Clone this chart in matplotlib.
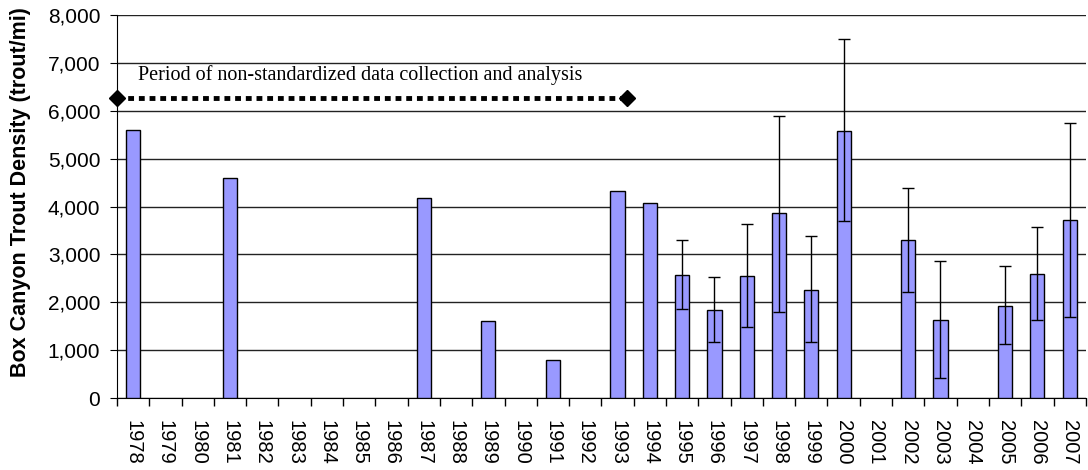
import matplotlib.pyplot as plt
from matplotlib.ticker import FuncFormatter, MultipleLocator
import numpy as np

# Years and mean density (trout/mi); 0 = no survey
years = list(range(1978, 2008))
density = [5600, 0, 0, 4600, 0, 0, 0, 0, 0, 4170, 0, 1600, 0, 800, 0, 4330,
           4070, 2570, 1840, 2550, 3860, 2260, 5570, 0, 3300, 1630, 0, 1920, 2600, 3720]

# Confidence limits, only for years that have them (None = no bar)
lower = [None] * 17 + [1860, 1180, 1490, 1800, 1180, 3700, None, 2210, 410, None, 1130, 1640, 1690]
upper = [None] * 17 + [3300, 2520, 3630, 5890, 3380, 7490, None, 4380, 2870, None, 2760, 3580, 5750]

annotation = "Period of non-standardized data collection and analysis"

plt.rcParams['font.family'] = ['Liberation Sans', 'DejaVu Sans']

fig = plt.figure(figsize=(10.88, 4.70), dpi=100)
ax = fig.add_axes([0.1075, 0.153, 0.8905, 0.815])

x = np.arange(len(years))
# only draw surveyed years, so empty years show no flat outline
xs = [i for i in x if density[i] > 0]
hs = [density[i] for i in xs]
ax.bar(xs, hs, width=0.44, color='#9999ff', edgecolor='black', linewidth=1, zorder=3)

# Asymmetric error bars
ex, ey, elo, ehi = [], [], [], []
for i in range(len(years)):
    if lower[i] is not None:
        ex.append(i)
        ey.append(density[i])
        elo.append(density[i] - lower[i])
        ehi.append(upper[i] - density[i])
ax.errorbar(ex, ey, yerr=[elo, ehi], fmt='none', ecolor='black', elinewidth=1,
            capsize=4, capthick=1, zorder=4)

# Non-standardized period marker
ax.plot([-0.5, 15.3], [6270, 6270], linestyle=(0, (1.2, 1.0)), color='black', linewidth=3.5,
        zorder=5, clip_on=False)
ax.plot([-0.5, 15.3], [6270, 6270], linestyle='none', marker='D', markersize=8,
        color='black', zorder=6, clip_on=False)
ax.text(0.15, 6740, annotation, family=['Liberation Serif', 'DejaVu Serif'], fontsize=14.5,
        va='center', ha='left')

ax.set_xlim(-0.5, len(years) - 0.5)
ax.set_ylim(0, 8000)
ax.yaxis.set_major_locator(MultipleLocator(1000))
ax.yaxis.set_major_formatter(FuncFormatter(lambda v, p: f"{int(v):,}"))
ax.grid(axis='y', color='#222222', linewidth=1, zorder=0)
ax.get_ygridlines()[-1].set_color('#888888')

ax.set_xticks(x)
ax.set_xticklabels([str(y) for y in years], rotation=270, fontsize=14.5, va='top', ha='center')
ax.set_xticks(np.arange(-0.5, len(years), 1), minor=True)
ax.tick_params(axis='x', which='major', length=0, pad=16)
ax.tick_params(axis='x', which='minor', length=6, width=1, direction='out')
ax.tick_params(axis='y', labelsize=15, length=5, direction='out', pad=7)

for s in ['top', 'right']:
    ax.spines[s].set_visible(False)
ax.spines['left'].set_color('black')
ax.spines['bottom'].set_color('black')

ax.set_ylabel("Box Canyon Trout Density (trout/mi)", fontsize=15.5, fontweight='bold')
ax.yaxis.set_label_coords(-0.089, 0.538)

fig.savefig('out.png', dpi=100)
